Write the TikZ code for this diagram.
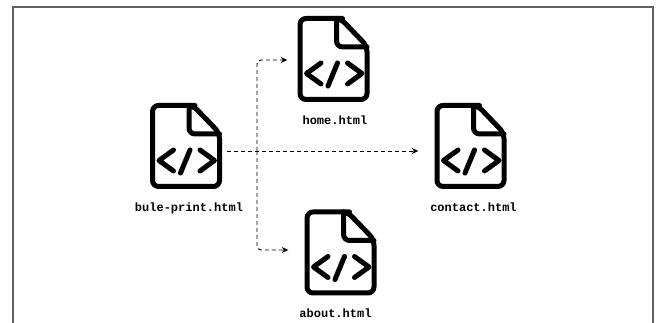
\documentclass[tikz,border=0pt]{standalone}
\usepackage{fontspec}
\setmonofont{Liberation Mono}
\usetikzlibrary{positioning,arrows.meta}

\tikzset{
  iconbox/.style={minimum width=72pt, minimum height=86pt, inner sep=0pt},
  filelabel/.style={font=\ttfamily\bfseries\fontsize{12pt}{14pt}\selectfont, text=black, inner sep=0pt},
  link/.style={-{Stealth[length=6.5pt,width=6pt]}, dashed, dash pattern=on 4pt off 3pt, line width=0.95pt, rounded corners=4pt},
  fileicon/.pic={
    % Sheet with cut corner
    \draw[line width=5pt, rounded corners=6pt, line join=round]
      (3,40.5) -- (-33.5,40.5) -- (-33.5,-40.5) -- (33.5,-40.5) -- (33.5,13) -- (7,40.5) -- cycle;
    % Fold
    \draw[line width=5pt, rounded corners=6pt, line cap=round]
      (3,40.5) -- (3,12) -- (33.5,12);
    % Code sign
    \draw[line width=5pt, line cap=round, line join=round]
      (-12.5,-4) -- (-27,-14.5) -- (-12.5,-25)
      (-5.5,-27) -- (4,-4)
      (14,-4) -- (28.5,-14.5) -- (14,-25);
  }
}

\begin{document}
\begin{tikzpicture}[x=1pt, y=1pt]
\useasboundingbox (0,0) rectangle (657,323);

% Frame
\draw[line width=2pt, color=black!62] (13,0) -- (13,316) -- (653,316) -- (653,0);

% Files
\node[iconbox] (blueprint) at (186,177) {};
\node[iconbox] (home) at (333.5,264) {};
\node[iconbox] (contact) at (470.5,177) {};
\node[iconbox] (about) at (340.5,70.5) {};

\pic at (blueprint) {fileicon};
\pic at (home) {fileicon};
\pic at (contact) {fileicon};
\pic at (about) {fileicon};

% Labels
\node[filelabel, below=13pt of blueprint, xshift=3pt] (blueprintlabel) {bule-print.html};
\node[filelabel, below=13pt of home, xshift=1.5pt] (homelabel) {home.html};
\node[filelabel, below=13pt of contact, xshift=3pt] (contactlabel) {contact.html};
\node[filelabel, below=13pt of about, xshift=-5pt] (aboutlabel) {about.html};

% Links
\coordinate (trunk) at (257,172);
\draw[link] ([shift={(5,-5)}]blueprint.east) -- ([shift={(-16,-5)}]contact.west);
\draw[link] (trunk) |- ([shift={(-10,-1)}]home.west);
\draw[link] (trunk) |- ([shift={(-16,2.5)}]about.west);

\end{tikzpicture}
\end{document}
